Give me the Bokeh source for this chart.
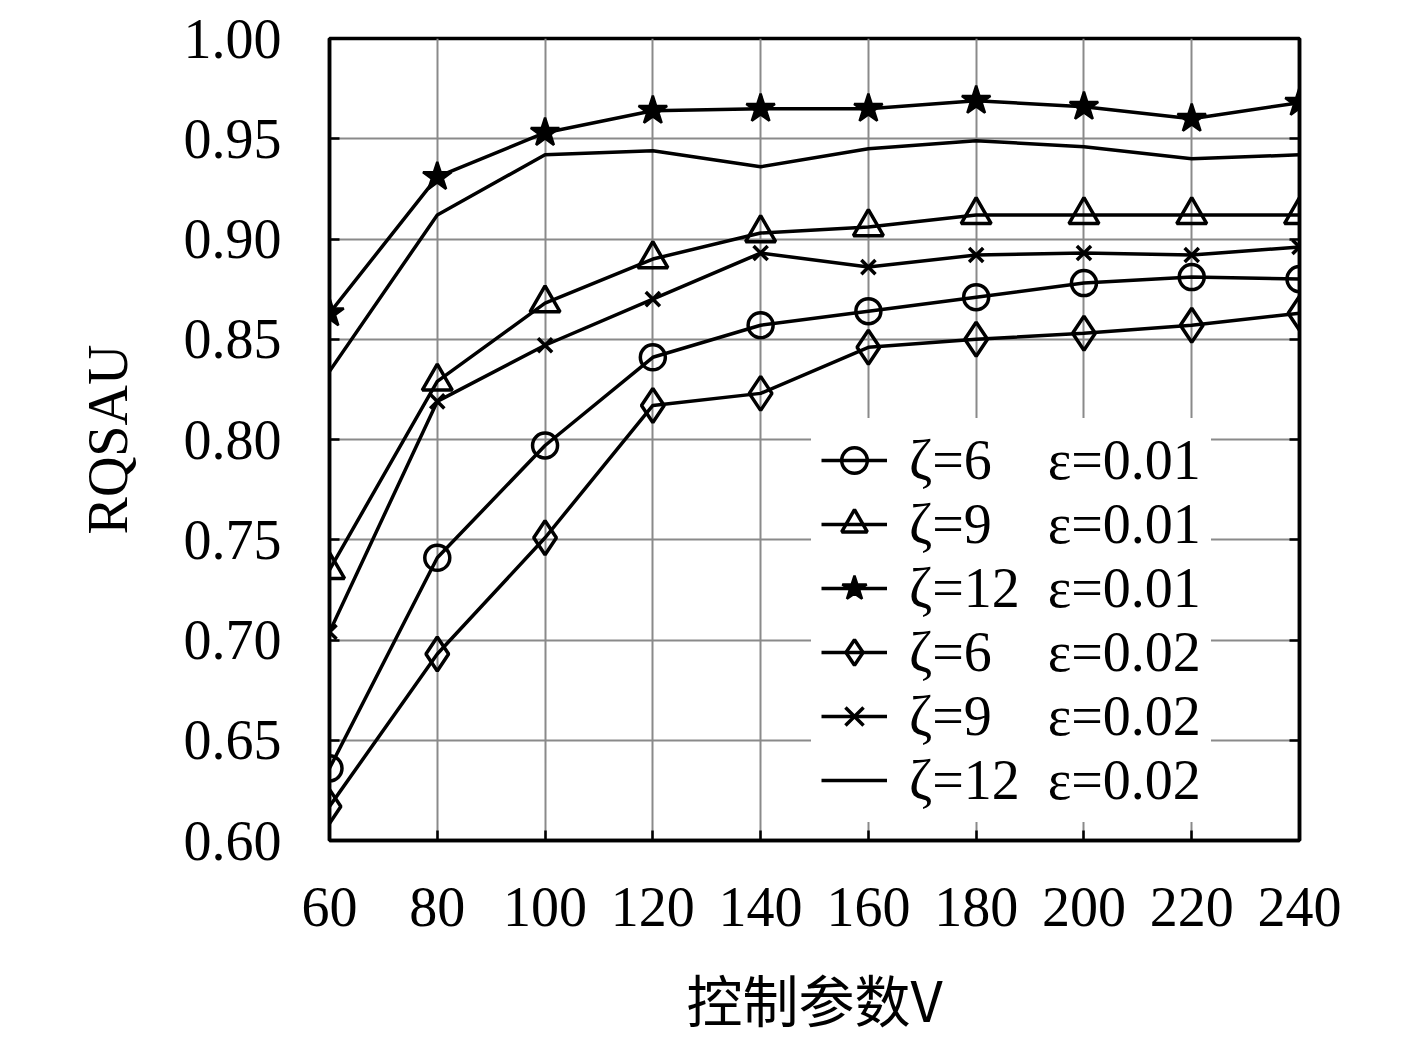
from bokeh.plotting import figure
from bokeh.models import FixedTicker, PrintfTickFormatter, LinearAxis, Legend, LegendItem, Range1d
from bokeh.embed import file_html
from bokeh.resources import INLINE

V = [60, 80, 100, 120, 140, 160, 180, 200, 220, 240]
x_ticks = [60, 80, 100, 120, 140, 160, 180, 200, 220, 240]
y_ticks = [0.60, 0.65, 0.70, 0.75, 0.80, 0.85, 0.90, 0.95, 1.00]

z6_e01 = [0.636, 0.741, 0.797, 0.841, 0.857, 0.864, 0.871, 0.878, 0.881, 0.880]
z9_e01 = [0.735, 0.829, 0.868, 0.890, 0.903, 0.906, 0.912, 0.912, 0.912, 0.912]
z12_e01 = [0.863, 0.931, 0.953, 0.964, 0.965, 0.965, 0.969, 0.966, 0.960, 0.968]
z6_e02 = [0.617, 0.693, 0.751, 0.817, 0.823, 0.846, 0.850, 0.853, 0.857, 0.863]
z9_e02 = [0.704, 0.819, 0.847, 0.870, 0.893, 0.886, 0.892, 0.893, 0.892, 0.896]
z12_e02 = [0.834, 0.912, 0.942, 0.944, 0.936, 0.945, 0.949, 0.946, 0.940, 0.942]

labels = [
    "ζ=6\u00a0\u00a0\u00a0\u00a0ε=0.01",
    "ζ=9\u00a0\u00a0\u00a0\u00a0ε=0.01",
    "ζ=12\u00a0\u00a0ε=0.01",
    "ζ=6\u00a0\u00a0\u00a0\u00a0ε=0.02",
    "ζ=9\u00a0\u00a0\u00a0\u00a0ε=0.02",
    "ζ=12\u00a0\u00a0ε=0.02",
]

FONT = "Liberation Serif"

p = figure(width=1405, height=1040, output_backend="svg", toolbar_location=None,
           x_range=Range1d(60, 240), y_range=Range1d(0.6, 1.0),
           min_border_left=329, min_border_right=106, min_border_top=38, min_border_bottom=195)
p.background_fill_color = "white"
p.border_fill_color = "white"
p.outline_line_color = "black"
p.outline_line_width = 3.5

p.xaxis.ticker = FixedTicker(ticks=x_ticks)
p.yaxis.ticker = FixedTicker(ticks=y_ticks)
p.yaxis.formatter = PrintfTickFormatter(format="%.2f")
p.xgrid.ticker = FixedTicker(ticks=x_ticks)
p.ygrid.ticker = FixedTicker(ticks=y_ticks)
for g in (p.xgrid, p.ygrid):
    g.grid_line_color = "#8a8a8a"
    g.grid_line_width = 2

for ax in (p.xaxis, p.yaxis):
    ax.major_tick_in = 10
    ax.major_tick_out = 0
    ax.minor_tick_in = 0
    ax.minor_tick_out = 0
    ax.axis_line_width = 3.5
    ax.major_tick_line_width = 2.5
    ax.major_label_text_font = FONT
    ax.major_label_text_font_size = "56px"
    ax.major_label_text_color = "black"
    ax.axis_label_text_font_size = "56px"
    ax.axis_label_text_font_style = "normal"
    ax.axis_label_text_color = "black"

p.yaxis.major_label_standoff = 48
p.xaxis.major_label_standoff = 47
p.yaxis.axis_label = "RQSAU"
p.yaxis.axis_label_text_font = FONT
p.yaxis.axis_label_standoff = 42
p.xaxis.axis_label = "控制参数V"
p.xaxis.axis_label_text_font = "Noto Sans CJK SC"
p.xaxis.axis_label_standoff = 28

rax = LinearAxis(ticker=FixedTicker(ticks=y_ticks), major_tick_in=10, major_tick_out=0,
                 minor_tick_in=0, minor_tick_out=0, major_label_text_font_size="0px",
                 axis_line_width=3.5, major_tick_line_width=2.5)
p.add_layout(rax, "right")

LW = 3.5
items = []
r1 = p.line(V, z6_e01, line_color="black", line_width=LW)
m1 = p.scatter(V, z6_e01, marker="circle", size=25, line_color="black", line_width=LW, fill_alpha=0)
items.append(LegendItem(label=labels[0], renderers=[r1, m1]))

r2 = p.line(V, z9_e01, line_color="black", line_width=LW)
m2 = p.scatter(V, z9_e01, marker="triangle", size=30, line_color="black", line_width=LW, fill_alpha=0)
items.append(LegendItem(label=labels[1], renderers=[r2, m2]))

r3 = p.line(V, z12_e01, line_color="black", line_width=LW)
m3 = p.scatter(V, z12_e01, marker="star", size=30, line_color="black", line_width=2.5, fill_color="black")
items.append(LegendItem(label=labels[2], renderers=[r3, m3]))

r4 = p.line(V, z6_e02, line_color="black", line_width=LW)
m4 = p.scatter(V, z6_e02, marker="diamond", size=34, line_color="black", line_width=LW, fill_alpha=0)
items.append(LegendItem(label=labels[3], renderers=[r4, m4]))

r5 = p.line(V, z9_e02, line_color="black", line_width=LW)
m5 = p.scatter(V, z9_e02, marker="x", size=20, line_color="black", line_width=LW)
items.append(LegendItem(label=labels[4], renderers=[r5, m5]))

r6 = p.line(V, z12_e02, line_color="black", line_width=LW)
items.append(LegendItem(label=labels[5], renderers=[r6]))

legend = Legend(items=items, location=(482, 18))
legend.background_fill_color = "white"
legend.background_fill_alpha = 1.0
legend.border_line_alpha = 0
legend.label_text_font = FONT
legend.label_text_font_size = "56px"
legend.label_text_color = "black"
legend.glyph_width = 66
legend.glyph_height = 64
legend.label_standoff = 22
legend.label_height = 61
legend.spacing = 0
legend.padding = 10
legend.margin = 0
p.add_layout(legend, "center")

open("out.html", "w").write(file_html(p, INLINE))
